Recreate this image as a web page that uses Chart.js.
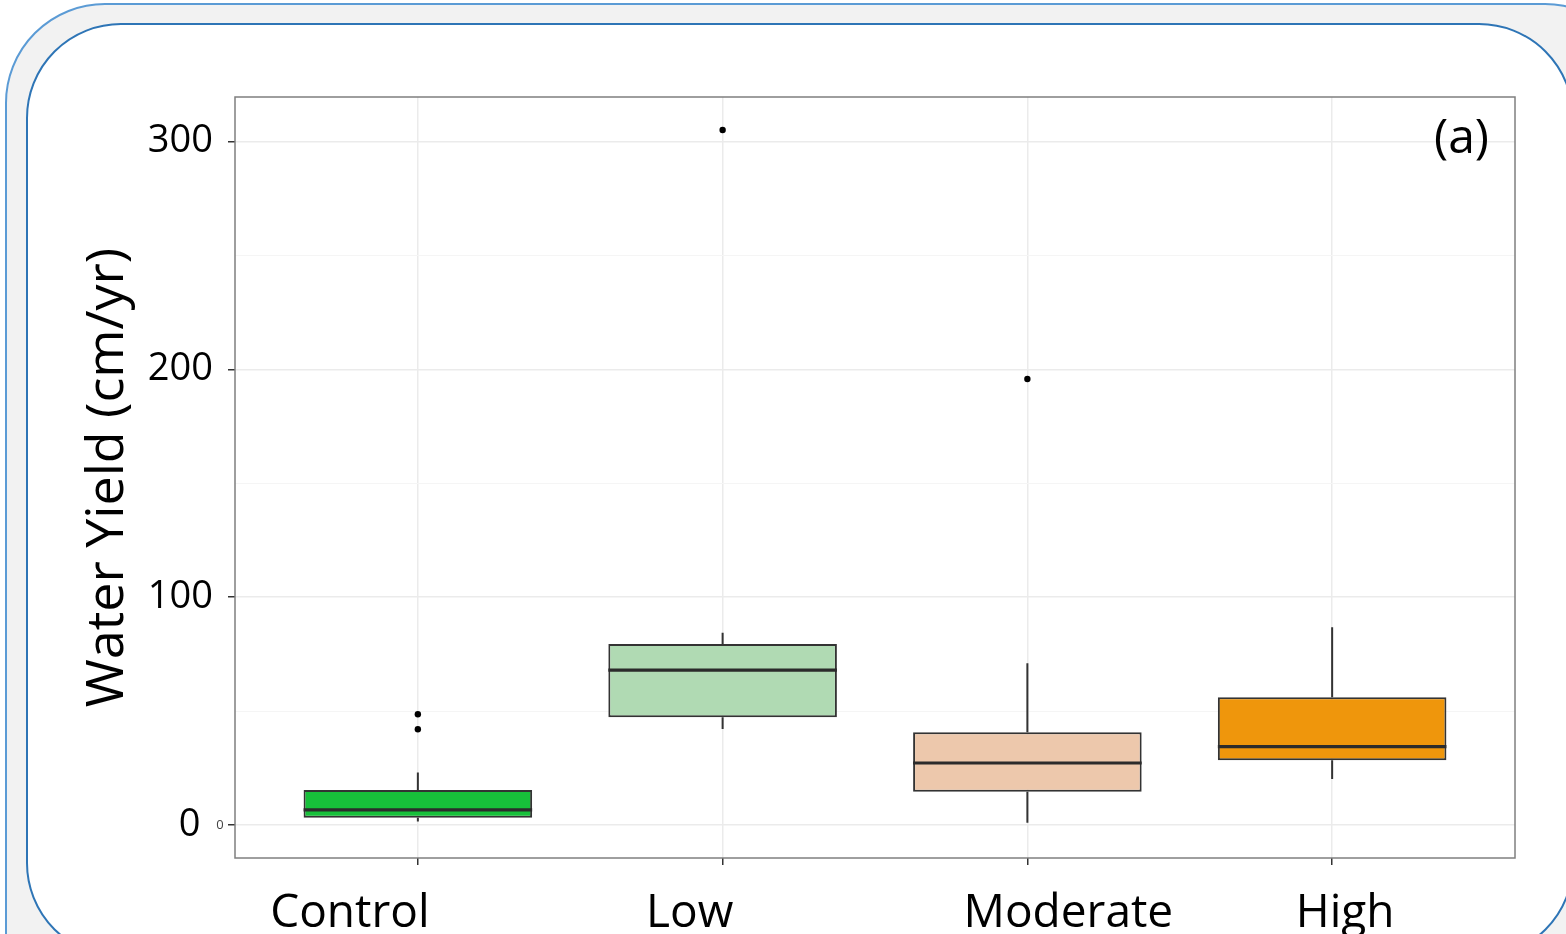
<!DOCTYPE html>
<html>
<head>
<meta charset="utf-8">
<title>Water Yield by treatment</title>
<script src="https://cdn.jsdelivr.net/npm/chart.js@4.4.1/dist/chart.umd.min.js"></script>
<style>
  html, body { margin: 0; padding: 0; width: 1566px; height: 934px; overflow: hidden; background: #fff; }
  .frame-outer { position: absolute; left: 5px; top: 3px; width: 1640px; height: 1040px; box-sizing: border-box;
    border: 2px solid #5b9bd5; border-radius: 100px; background: #f2f2f2; }
  .frame-inner { position: absolute; left: 26px; top: 23px; width: 1548px; height: 935px; box-sizing: border-box;
    border: 2.5px solid #2e75b6; border-radius: 95px; background: #fff; }
  #wrap { position: absolute; left: 0; top: 0; width: 1566px; height: 934px; }
</style>
</head>
<body>
<div class="frame-outer"></div>
<div class="frame-inner"></div>
<div id="wrap"><canvas id="chart"></canvas></div>
<script>
// Treatment groups and their box-plot summaries (cm/yr)
const categories  = ['Control', 'Low', 'Moderate', 'High'];
const whiskerLow  = [1.5, 42.1, 1.0, 20.2];
const q1          = [3.2, 47.3, 14.6, 28.4];
const median      = [6.6, 68.0, 27.2, 34.4];
const q3          = [15.4, 79.5, 40.7, 56.1];
const whiskerHigh = [23.0, 84.4, 71.0, 86.8];

// Outlying observations: group index and value
const outlierGroup = [0, 0, 1, 2];
const outlierValue = [48.6, 42.0, 305.1, 195.8];

// Axis breaks
const yMajorTicks = [0, 100, 200, 300];
const yMinorTicks = [50, 150, 250];
const panelTag = '(a)';

// Styling
const boxColors = ['#17c03a', '#b0dab3', '#edc8ac', '#ef960c'];
const BOX_WIDTH = 0.75;
const labelNudge = [-68, -33, 41, 13];
const FONT = '"Open Sans", "DejaVu Sans", sans-serif';

const whiskerData = [];
categories.forEach((c, i) => {
  whiskerData.push({ x: i + 1, y: q3[i] }, { x: i + 1, y: whiskerHigh[i] }, { x: i + 1, y: null });
  whiskerData.push({ x: i + 1, y: whiskerLow[i] }, { x: i + 1, y: q1[i] }, { x: i + 1, y: null });
});
const boxData = categories.map((c, i) => ({ x: i + 1, y: [q1[i], q3[i]] }));
const medianData = [];
categories.forEach((c, i) => {
  medianData.push({ x: i + 1 - BOX_WIDTH / 2, y: median[i] },
                  { x: i + 1 + BOX_WIDTH / 2, y: median[i] },
                  { x: i + 1, y: null });
});
const outlierData = outlierGroup.map((g, k) => ({ x: g + 1, y: outlierValue[k] }));

const isMajor = v => yMajorTicks.includes(v);

const panelExtras = {
  id: 'panelExtras',
  afterDraw(chart) {
    const { ctx, chartArea: a, scales: { x, y } } = chart;
    ctx.save();
    // panel border
    ctx.strokeStyle = '#7f7f7f';
    ctx.lineWidth = 1.5;
    ctx.strokeRect(a.left, a.top, a.right - a.left, a.bottom - a.top);
    // group names under the axis
    ctx.fillStyle = '#000';
    ctx.font = '46px ' + FONT;
    ctx.textAlign = 'center';
    ctx.textBaseline = 'alphabetic';
    categories.forEach((c, i) => {
      ctx.fillText(c, x.getPixelForValue(i + 1) + labelNudge[i], a.bottom + 69);
    });
    // panel tag
    ctx.font = '48px ' + FONT;
    ctx.textAlign = 'right';
    ctx.textBaseline = 'middle';
    ctx.fillText(panelTag, a.right - 26, a.top + 42);
    // small zero label beside the tick
    ctx.font = '13px ' + FONT;
    ctx.fillStyle = '#444';
    ctx.textAlign = 'center';
    ctx.fillText('0', a.left - 15, y.getPixelForValue(0));
    ctx.restore();
  }
};

function draw() {
  new Chart(document.getElementById('chart'), {
    type: 'scatter',
    data: {
      datasets: [
        { type: 'scatter', data: outlierData, order: 1, pointRadius: 3.2, pointBackgroundColor: '#000',
          pointBorderWidth: 0, showLine: false },
        { type: 'line', data: medianData, order: 2, borderColor: '#2b2b2b', borderWidth: 3.2,
          pointRadius: 0, spanGaps: false, fill: false },
        { type: 'bar', data: boxData, order: 3, backgroundColor: boxColors, borderColor: '#333',
          borderWidth: 2, borderSkipped: false, barPercentage: BOX_WIDTH, categoryPercentage: 1, grouped: false },
        { type: 'line', data: whiskerData, order: 4, borderColor: '#333', borderWidth: 2,
          pointRadius: 0, spanGaps: false, fill: false }
      ]
    },
    options: {
      responsive: true,
      maintainAspectRatio: false,
      animation: false,
      events: [],
      layout: { padding: { top: 97, right: 51, left: 0, bottom: 0 } },
      plugins: { legend: { display: false }, tooltip: { enabled: false } },
      scales: {
        x: {
          type: 'linear', min: 0.4, max: 4.6, offset: false,
          afterBuildTicks: ax => { ax.ticks = categories.map((c, i) => ({ value: i + 1 })); },
          afterFit: ax => { ax.height = 76; },
          grid: { color: '#ebebeb', lineWidth: 1.5, offset: false, drawTicks: true, tickLength: 7,
                  tickColor: '#333', tickWidth: 1.5 },
          border: { display: false },
          ticks: { display: false }
        },
        y: {
          type: 'linear', min: -14.5, max: 319.6,
          afterBuildTicks: ax => {
            ax.ticks = [...yMajorTicks, ...yMinorTicks].sort((a, b) => a - b).map(v => ({ value: v }));
          },
          afterFit: ax => { ax.width = 235; },
          grid: {
            color: c => isMajor(c.tick.value) ? '#ebebeb' : '#f5f5f5',
            lineWidth: c => isMajor(c.tick.value) ? 1.5 : 1,
            tickLength: 7,
            tickColor: c => isMajor(c.tick.value) ? '#333' : 'rgba(0,0,0,0)',
            tickWidth: 1.5
          },
          border: { display: false },
          ticks: {
            padding: 15, color: '#000', font: { family: FONT, size: 38 },
            // the zero label sits a little further from the axis
            callback: v => !isMajor(v) ? '' : (v === 0 ? '0\u2009\u2009' : String(v))
          },
          title: { display: true, text: 'Water Yield (cm/yr)', color: '#000',
                   font: { family: FONT, size: 52 }, padding: { top: 77, bottom: 0 } }
        }
      }
    },
    plugins: [panelExtras]
  });
}

if (document.fonts && document.fonts.load) {
  Promise.all([document.fonts.load('46px "Open Sans"')]).then(draw, draw);
} else {
  draw();
}
</script>
</body>
</html>
